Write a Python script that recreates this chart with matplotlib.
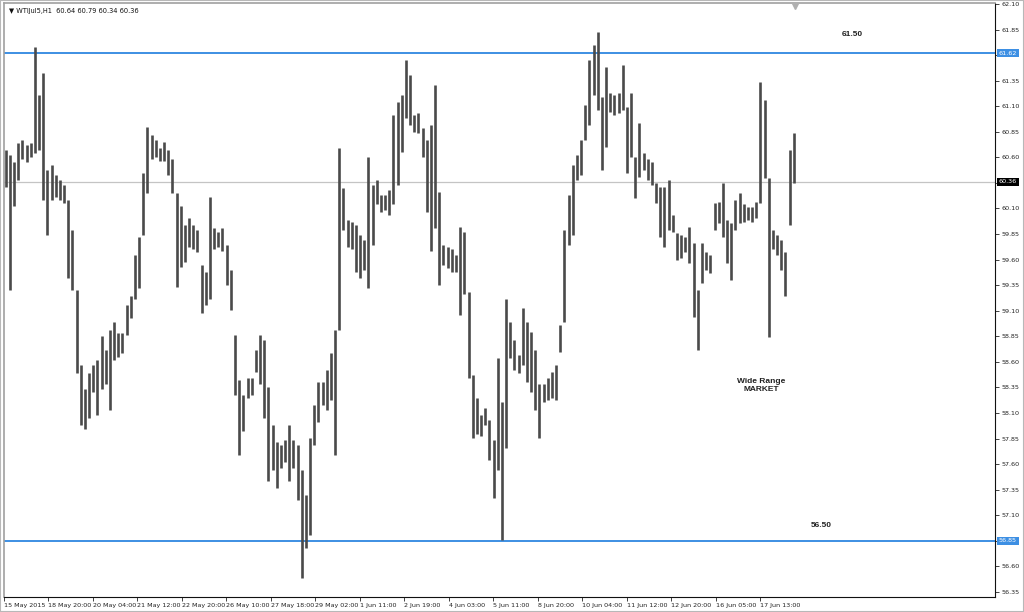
import matplotlib
matplotlib.use('Agg')
import matplotlib.pyplot as plt
import matplotlib.transforms as mtransforms
import numpy as np

# ---- data (3-hour high/low envelope) ----
highs = [60.67, 60.62, 60.55, 60.74, 60.77, 60.72, 60.74, 61.68, 61.21, 61.43,
         60.48, 60.53, 60.43, 60.38, 60.33, 60.18, 59.89, 59.30, 58.57, 58.33,
         58.49, 58.57, 58.62, 58.85, 58.72, 58.91, 58.99, 58.88, 58.88, 59.16,
         59.24, 59.65, 59.82, 60.45, 60.90, 60.82, 60.77, 60.69, 60.75, 60.67,
         60.58, 60.25, 60.12, 59.94, 60.01, 59.94, 59.89, 59.55, 59.48, 60.21,
         59.91, 59.87, 59.91, 59.74, 59.50, 58.86, 58.42, 58.28, 58.44, 58.44,
         58.72, 58.86, 58.81, 58.35, 57.98, 57.82, 57.79, 57.84, 57.98, 57.84,
         57.79, 57.54, 57.30, 57.86, 58.18, 58.40, 58.40, 58.52, 58.69, 58.91,
         60.69, 60.30, 59.99, 59.97, 59.94, 59.84, 59.79, 60.60, 60.33, 60.38,
         60.23, 60.23, 60.28, 61.01, 61.14, 61.21, 61.55, 61.41, 61.01, 61.03,
         60.89, 60.77, 60.92, 61.31, 60.26, 59.74, 59.72, 59.70, 59.65, 59.92,
         59.87, 59.28, 58.47, 58.25, 58.08, 58.15, 58.03, 57.84, 58.64, 58.21,
         59.21, 58.99, 58.81, 58.67, 59.13, 58.99, 58.89, 58.72, 58.38, 58.38,
         58.44, 58.50, 58.57, 58.96, 59.89, 60.23, 60.53, 60.62, 60.77, 61.11,
         61.55, 61.70, 61.83, 61.19, 61.48, 61.23, 61.21, 61.23, 61.50, 61.09,
         61.23, 60.60, 60.94, 60.64, 60.58, 60.55, 60.35, 60.31, 60.31, 60.38,
         60.04, 59.86, 59.84, 59.82, 59.92, 59.76, 59.30, 59.76, 59.67, 59.65,
         60.15, 60.16, 60.35, 59.99, 59.96, 60.18, 60.25, 60.14, 60.11, 60.11,
         60.16, 61.34, 61.16, 60.40, 59.89, 59.84, 59.79, 59.67, 60.67, 60.84]

lows = [60.31, 59.30, 60.12, 60.38, 60.58, 60.55, 60.60, 60.64, 60.67, 60.18,
        59.84, 60.18, 60.21, 60.18, 60.15, 59.42, 59.30, 58.49, 57.98, 57.94,
        58.05, 58.31, 58.08, 58.33, 58.38, 58.13, 58.62, 58.65, 58.69, 58.86,
        59.03, 59.21, 59.32, 59.84, 60.25, 60.58, 60.60, 60.56, 60.56, 60.43,
        60.25, 59.33, 59.53, 59.58, 59.72, 59.70, 59.67, 59.08, 59.16, 59.21,
        59.70, 59.72, 59.68, 59.35, 59.11, 58.28, 57.69, 57.92, 58.25, 58.28,
        58.50, 58.38, 58.05, 57.43, 57.54, 57.37, 57.56, 57.62, 57.43, 57.56,
        57.25, 56.49, 56.78, 56.91, 57.79, 58.01, 58.18, 58.13, 58.23, 57.69,
        58.91, 59.89, 59.72, 59.70, 59.48, 59.42, 59.50, 59.32, 59.74, 60.14,
        60.07, 60.09, 60.04, 60.14, 60.33, 60.65, 60.99, 60.92, 60.85, 60.84,
        60.60, 60.07, 59.68, 59.91, 59.35, 59.55, 59.52, 59.48, 59.48, 59.06,
        59.26, 58.44, 57.86, 57.89, 57.87, 57.98, 57.64, 57.27, 57.54, 56.86,
        57.76, 58.64, 58.52, 58.49, 58.57, 58.40, 58.31, 58.13, 57.86, 58.21,
        58.23, 58.25, 58.23, 58.70, 58.99, 59.74, 59.84, 60.38, 60.43, 60.77,
        60.92, 61.21, 61.06, 60.48, 60.70, 61.04, 61.01, 61.03, 61.06, 60.45,
        60.60, 60.20, 60.41, 60.48, 60.38, 60.33, 60.15, 59.82, 59.72, 59.89,
        59.87, 59.60, 59.62, 59.67, 59.57, 59.04, 58.72, 59.37, 59.50, 59.47,
        59.89, 59.96, 59.82, 59.57, 59.40, 59.89, 59.96, 59.97, 59.99, 59.97,
        60.01, 60.15, 60.40, 58.84, 59.70, 59.65, 59.50, 59.24, 59.94, 60.35]

bar_hours = 3
tick_labels = ['15 May 2015', '18 May 20:00', '20 May 04:00', '21 May 12:00',
               '22 May 20:00', '26 May 10:00', '27 May 18:00', '29 May 02:00',
               '1 Jun 11:00', '2 Jun 19:00', '4 Jun 03:00', '5 Jun 11:00',
               '8 Jun 20:00', '10 Jun 04:00', '11 Jun 12:00', '12 Jun 20:00',
               '16 Jun 05:00', '17 Jun 13:00']
tick_step_hours = 32
y_ticks = [56.35, 56.60, 56.85, 57.10, 57.35, 57.60, 57.85, 58.10, 58.35, 58.60,
           58.85, 59.10, 59.35, 59.60, 59.85, 60.10, 60.35, 60.60, 60.85, 61.10,
           61.35, 61.60, 61.85, 62.10]
level_lines = [61.62, 56.85]
last_price = 60.36
header = '\u25BC WTIJul5,H1  60.64 60.79 60.34 60.36'
note_upper = '61.50'
note_lower = '56.50'
note_text = 'Wide Range\nMARKET'

# ---- figure ----
fig = plt.figure(figsize=(10.24, 6.12), dpi=100)
ax = fig.add_axes([4 / 1024, 15 / 612, 991 / 1024, 594 / 612])
ax.set_xlim(0, 713)
ax.set_ylim(56.30, 62.11)

n = len(highs)
xs = np.arange(n) * bar_hours + 1.2
ax.vlines(xs, lows, highs, color='#4a4a4a', lw=1.9, zorder=3)

blue = '#3d8fe3'
for lv in level_lines:
    ax.axhline(lv, color=blue, lw=1.4, zorder=2)
ax.axhline(last_price, color='#c4c4c4', lw=0.9, zorder=1)

# y axis on right; labels hidden where a price box covers them
covered = [61.60, 60.35, 56.85]
ax.yaxis.tick_right()
ax.set_yticks(y_ticks)
ax.set_yticklabels(['' if any(abs(v - c) < 1e-6 for c in covered) else '%.2f' % v
                    for v in y_ticks])
ax.tick_params(axis='y', direction='out', length=3, width=0.6, pad=1.5,
               labelsize=4.6, colors='#222222')
ax.tick_params(axis='x', direction='out', length=3, width=0.6, pad=1.5,
               labelsize=4.6, colors='#222222')
ax.set_xticks([i * tick_step_hours for i in range(len(tick_labels))])
ax.set_xticklabels(tick_labels, ha='left')

for s in ['top', 'left']:
    ax.spines[s].set_color('#a0a0a0')
    ax.spines[s].set_linewidth(1.2)
for s in ['right', 'bottom']:
    ax.spines[s].set_color('#111111')
    ax.spines[s].set_linewidth(0.8)

trans = mtransforms.blended_transform_factory(ax.transAxes, ax.transData)
for lv in level_lines:
    ax.text(1.004, lv, '%.2f' % lv, transform=trans, fontsize=4.6, color='white',
            va='center', ha='left', zorder=10,
            bbox=dict(boxstyle='square,pad=0.25', fc=blue, ec='none'))
ax.text(1.004, last_price, '%.2f' % last_price, transform=trans, fontsize=4.6,
        color='white', va='center', ha='left', zorder=10,
        bbox=dict(boxstyle='square,pad=0.25', fc='black', ec='none'))

ax.text(0.005, 0.992, header, transform=ax.transAxes, fontsize=4.8,
        color='#111111', va='top', ha='left')

ax.text(610, 61.80, note_upper, fontsize=6, fontweight='bold',
        family='Liberation Sans', color='#222222', va='center', ha='center')
ax.text(588, 57.00, note_lower, fontsize=6, fontweight='bold',
        family='Liberation Sans', color='#222222', va='center', ha='center')
ax.text(545, 58.37, note_text, fontsize=6, fontweight='bold',
        family='Liberation Sans', color='#222222', va='center', ha='center',
        linespacing=1.25)

# chart-shift marker at top
ax.plot([569], [62.085], marker='v', ms=4, color='#b0b0b0', clip_on=False,
        zorder=5)

# window border
fig.patches.append(plt.Rectangle((0, 0), 1, 1, transform=fig.transFigure,
                                 fill=False, ec='#b8b8b8', lw=1.5))

fig.savefig('out.png', dpi=100, facecolor='white')
